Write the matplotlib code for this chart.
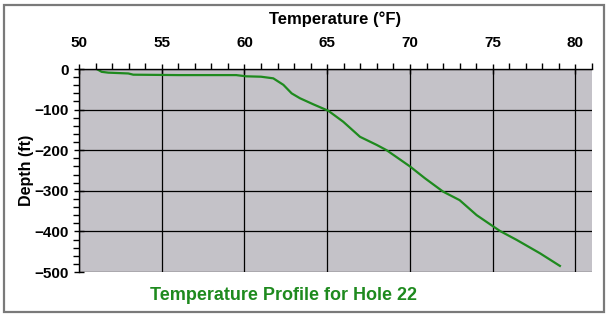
import matplotlib as mpl
mpl.use('Agg')
import matplotlib.pyplot as plt
from matplotlib.ticker import MultipleLocator
from matplotlib.patches import Rectangle

# temperature (F) vs depth (ft)
temp_f = [51.07, 51.37, 51.77, 52.98, 53.28, 56.0, 59.5, 59.9, 60.1, 61.0,
          61.74, 62.35, 62.85, 63.35, 64.16, 65.07, 65.97, 66.98, 67.99,
          68.59, 70.0, 70.9, 72.0, 73.0, 74.03, 75.04, 75.44, 76.45,
          77.86, 79.06]
depth_ft = [0, -7, -9, -11, -14, -15, -15, -17, -18, -19,
            -23, -39, -60, -72, -87, -103, -130, -167, -187,
            -200, -240, -269, -302, -323, -360, -388, -399, -421,
            -454, -485]

title = "Temperature Profile for Hole 22"
xlabel = "Temperature (\u00b0F)"
ylabel = "Depth (ft)"

plt.rcParams['font.family'] = ['Liberation Sans', 'DejaVu Sans']
plt.rcParams['font.weight'] = 'bold'

W, H = 612, 318
fig = plt.figure(figsize=(W / 100, H / 100), dpi=100)
fig.patch.set_facecolor('white')

# outer gray frame
fig.patches.append(Rectangle((4 / W, 6 / H), 600 / W, 307 / H, transform=fig.transFigure,
                             fill=False, edgecolor='#7a7a7a', linewidth=1.6))

ax = fig.add_axes([79 / W, 1 - 272 / H, (592 - 79) / W, (272 - 69) / H])
ax.set_facecolor('#c4c2c8')

ax.plot(temp_f, depth_ft, color='#1e8a1e', linewidth=1.6)

ax.set_xlim(50, 81)
ax.set_ylim(-500, 0)
ax.xaxis.set_major_locator(MultipleLocator(5))
ax.xaxis.set_minor_locator(MultipleLocator(1))
ax.yaxis.set_major_locator(MultipleLocator(100))
ax.yaxis.set_minor_locator(MultipleLocator(20))
ax.xaxis.tick_top()
ax.xaxis.set_label_position('top')
ax.grid(True, which='major', color='black', linewidth=0.9)
ax.tick_params(which='major', direction='inout', length=7, width=1, labelsize=11)
ax.tick_params(which='minor', direction='out', length=4, width=1)
ax.tick_params(axis='x', pad=10)
ax.tick_params(axis='y', pad=4)

for s in ['right', 'bottom']:
    ax.spines[s].set_visible(False)
for s in ['left', 'top']:
    ax.spines[s].set_color('black')
    ax.spines[s].set_linewidth(1)

ax.set_xlabel(xlabel, fontsize=12, fontweight='bold', labelpad=9)
ax.set_ylabel(ylabel, fontsize=11.5, fontweight='bold', labelpad=0)

fig.text(284 / W, 1 - 296 / H, title, color='#1e8a1e', fontsize=13, fontweight='bold',
         ha='center', va='center')

fig.savefig('out.png', dpi=100)
